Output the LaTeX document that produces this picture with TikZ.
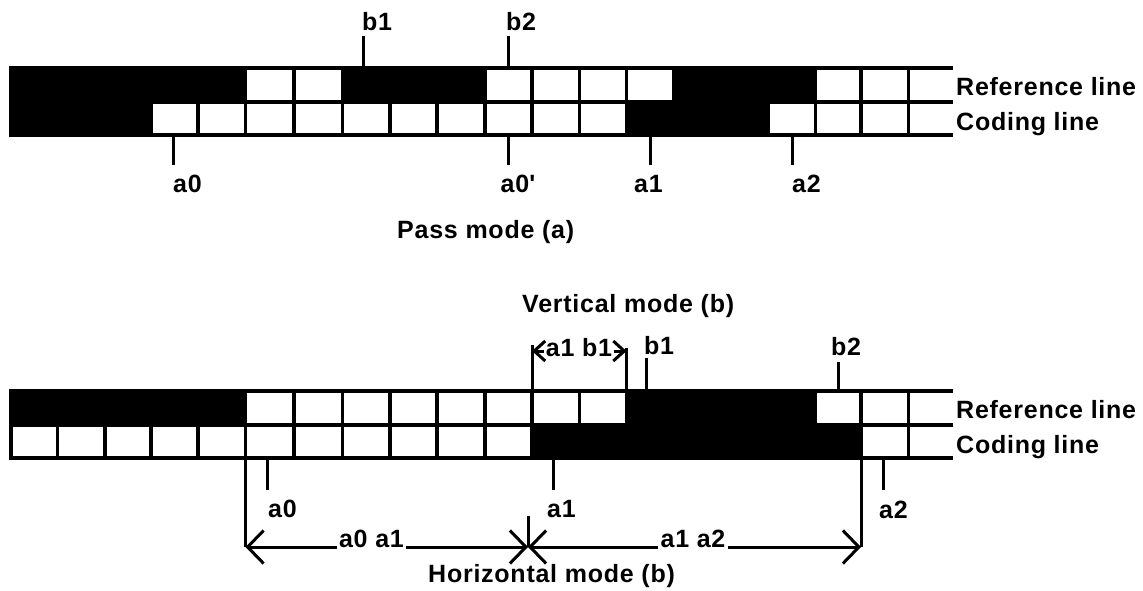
\documentclass[tikz,border=0pt]{standalone}
\usepackage{fontspec}
\setmainfont{Liberation Sans}[LetterSpace=3]
\usetikzlibrary{arrows.meta}

\begin{document}
\begin{tikzpicture}[x=1pt, y=-1pt,
  rule/.style={line width=3.2pt, line cap=rect},
  tick/.style={line width=3pt},
  lbl/.style={font=\fontsize{25}{30}\selectfont\bfseries, inner sep=0pt, anchor=base west},
  dimlbl/.style={font=\fontsize{25}{30}\selectfont\bfseries, inner xsep=2pt, inner ysep=0pt, anchor=base},
  bigbarb/.tip={Straight Barb[length=16pt, width=33pt]},
  smallbarb/.tip={Straight Barb[length=11pt, width=20pt]},
  dimline/.style={line width=3pt}
]
\useasboundingbox (0,0) rectangle (1143,590);

% cell boundaries shared by both strips
\def\cols{11,57.5,105,151,198,245.5,294,342.5,390,437,485,532,579.5,626.5,674,721,768.5,815.5,861,908.5}

% ---------- pass mode strip ----------
% black runs: reference line, then coding line
\fill (11,68) rectangle (245.5,102);
\fill (342.5,68) rectangle (485,102);
\fill (674,68) rectangle (815.5,102);
\fill (11,102) rectangle (151,135);
\fill (626.5,102) rectangle (768.5,135);
% grid
\foreach \y in {68,102,135} \draw[rule] (11,\y) -- (951,\y);
\foreach \x in \cols \draw[rule] (\x,68) -- (\x,135);

\node[lbl] (refA) at (956,95) {Reference line};
\node[lbl] (codA) at (956,130) {Coding line};

% changing elements
\node[lbl] (b1A) at (362,30) {b1};
\node[lbl] (b2A) at (506,30) {b2};
\draw[tick] (363,36) -- (363,68);
\draw[tick] (508,36) -- (508,68);

\node[lbl] (a0A)  at (173,192) {a0};
\node[lbl] (a0pA) at (500.5,192) {a0\textquotesingle};
\node[lbl] (a1A)  at (634,192) {a1};
\node[lbl] (a2A)  at (792,192) {a2};
\draw[tick] (173,135) -- (173,165);
\draw[tick] (508,135) -- (508,165);
\draw[tick] (650,135) -- (650,165);
\draw[tick] (792,135) -- (792,165);

\node[lbl] (passA) at (397,238) {Pass mode (a)};

% ---------- vertical / horizontal mode strip ----------
\fill (11,391) rectangle (245.5,425);
\fill (626.5,391) rectangle (815.5,425);
\fill (532,425) rectangle (861,458);
\foreach \y in {391,425,458} \draw[rule] (11,\y) -- (951,\y);
\foreach \x in \cols \draw[rule] (\x,391) -- (\x,458);

\node[lbl] (refB) at (956,418) {Reference line};
\node[lbl] (codB) at (956,453) {Coding line};

\node[lbl] (vertB) at (522,312) {Vertical mode (b)};

\node[lbl] (b1B) at (644,354) {b1};
\node[lbl] (b2B) at (831,355) {b2};
\draw[tick] (646,358) -- (646,391);
\draw[tick] (838,362) -- (838,391);

\node[lbl] (a0B) at (268,517) {a0};
\node[lbl] (a1B) at (547,517) {a1};
\node[lbl] (a2B) at (879,518) {a2};
\draw[tick] (267,458) -- (267,490);
\draw[tick] (553,458) -- (553,490);
\draw[tick] (883,458) -- (883,490);

% a1 b1 distance
\coordinate (vL) at (532,351);
\coordinate (vR) at (626.5,351);
\draw[tick] (532,345) -- (532,391);
\draw[tick] (626.5,348) -- (626.5,391);
\node[dimlbl] (ab) at (579,356) {a1 b1};
\draw[dimline, {smallbarb}-] (vL) -- (vL -| ab.west);
\draw[dimline, -{smallbarb}] (vR -| ab.east) -- (vR);

% a0 a1 and a1 a2 run lengths
\coordinate (hL) at (245.5,547);
\coordinate (hX) at (528,547);
\coordinate (hR) at (861,547);
\draw[tick] (245.5,458) -- (hL);
\draw[tick] (861,458) -- (hR);
\draw[tick] (528,516) -- (hX);
\node[dimlbl] (r01) at (371.5,547) {a0 a1};
\node[dimlbl] (r12) at (693,547) {a1 a2};
\draw[dimline, {bigbarb}-] (hL) -- (r01.base west);
\draw[dimline, -{bigbarb}] (r01.base east) -- (hX);
\draw[dimline, {bigbarb}-] (hX) -- (r12.base west);
\draw[dimline, -{bigbarb}] (r12.base east) -- (hR);

\node[lbl] (horB) at (428,582) {Horizontal mode (b)};
\end{tikzpicture}
\end{document}
